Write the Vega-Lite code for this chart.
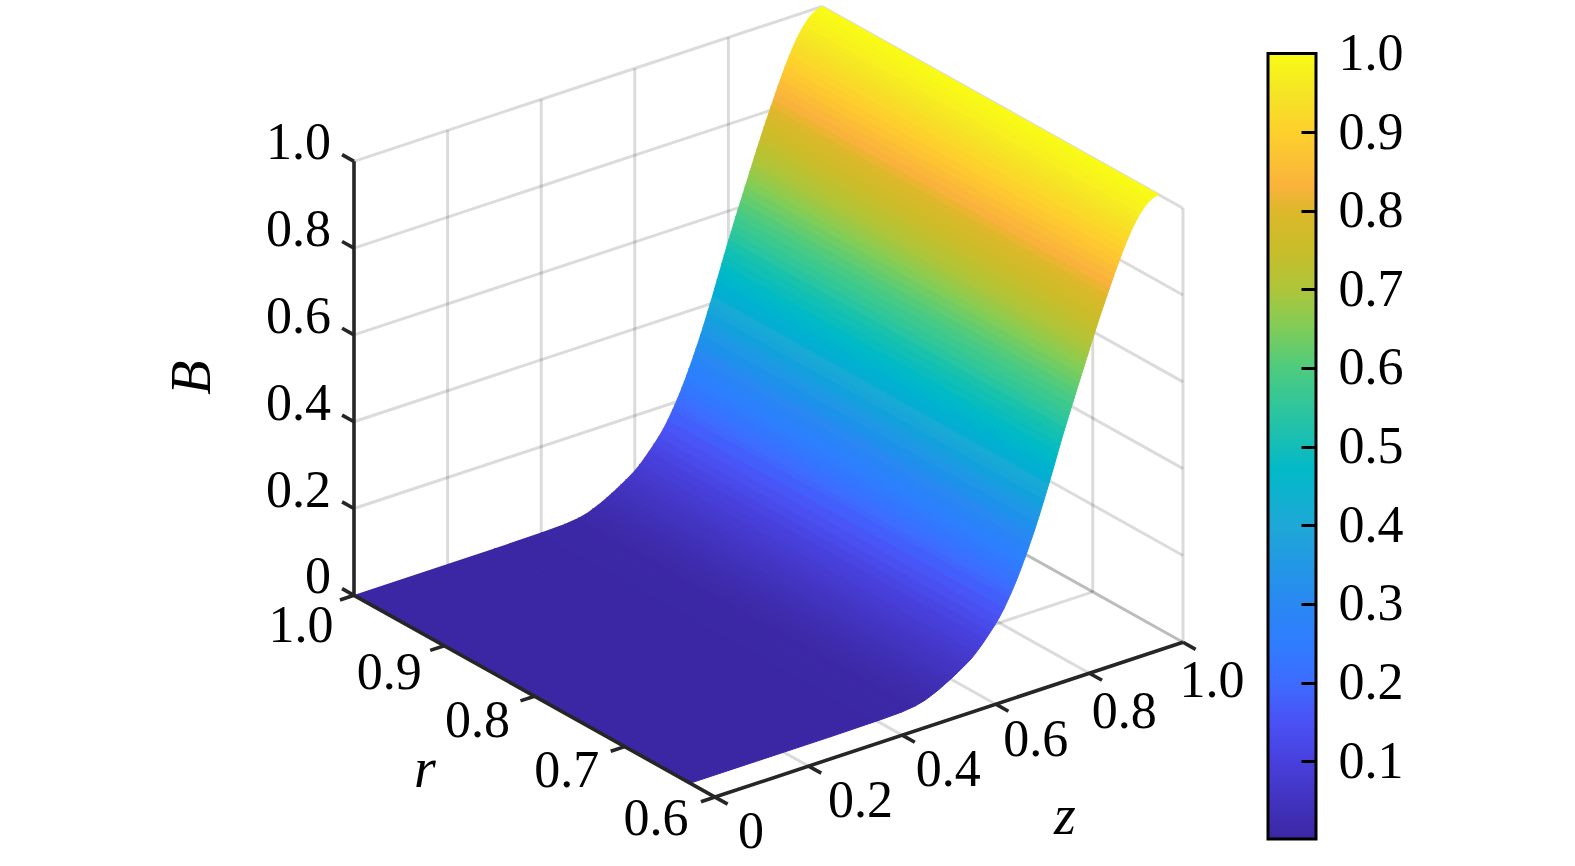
{"$schema":"https://vega.github.io/schema/vega-lite/v6.json","width":1575,"height":866,"padding":0,"autosize":{"type":"fit","contains":"padding"},"background":"white","config":{"view":{"stroke":null}},"layer":[{"layer":[
{"data":{"values":[
{"id":"a1","r":[1,1],"z":[0.2,0.2],"B":[0,1]},{"id":"a2","r":[1,1],"z":[0.4,0.4],"B":[0,1]},{"id":"a3","r":[1,1],"z":[0.6,0.6],"B":[0,1]},{"id":"a4","r":[1,1],"z":[0.8,0.8],"B":[0,1]},
{"id":"b1","r":[1,1],"z":[0,1],"B":[0.2,0.2]},{"id":"b2","r":[1,1],"z":[0,1],"B":[0.4,0.4]},{"id":"b3","r":[1,1],"z":[0,1],"B":[0.6,0.6]},{"id":"b4","r":[1,1],"z":[0,1],"B":[0.8,0.8]},{"id":"b5","r":[1,1],"z":[0,1],"B":[1,1]},
{"id":"c0","r":[0.6,0.6],"z":[1,1],"B":[0,1]},{"id":"c1","r":[0.7,0.7],"z":[1,1],"B":[0,1]},{"id":"c2","r":[0.8,0.8],"z":[1,1],"B":[0,1]},{"id":"c3","r":[0.9,0.9],"z":[1,1],"B":[0,1]},
{"id":"d0","r":[1,0.6],"z":[1,1],"B":[0,0]},{"id":"d1","r":[1,0.6],"z":[1,1],"B":[0.2,0.2]},{"id":"d2","r":[1,0.6],"z":[1,1],"B":[0.4,0.4]},{"id":"d3","r":[1,0.6],"z":[1,1],"B":[0.6,0.6]},{"id":"d4","r":[1,0.6],"z":[1,1],"B":[0.8,0.8]},{"id":"d5","r":[1,0.6],"z":[1,1],"B":[1,1]},
{"id":"e1","r":[1,0.6],"z":[0.2,0.2],"B":[0,0]},{"id":"e2","r":[1,0.6],"z":[0.4,0.4],"B":[0,0]},{"id":"e3","r":[1,0.6],"z":[0.6,0.6],"B":[0,0]},{"id":"e4","r":[1,0.6],"z":[0.8,0.8],"B":[0,0]},{"id":"e5","r":[1,0.6],"z":[1,1],"B":[0,0]},
{"id":"f1","r":[0.7,0.7],"z":[0,1],"B":[0,0]},{"id":"f2","r":[0.8,0.8],"z":[0,1],"B":[0,0]},{"id":"f3","r":[0.9,0.9],"z":[0,1],"B":[0,0]}
]},
"transform":[{"flatten":["r","z","B"]},{"calculate":"354+902.5*(1-datum.r)+468*datum.z","as":"sx"},{"calculate":"595+505*(1-datum.r)-155*datum.z-434.5*datum.B","as":"sy"}],
"mark":{"type":"line","stroke":"#000000","strokeOpacity":0.14,"strokeWidth":3},
"encoding":{"x":{"field":"sx","type":"quantitative","scale":{"domain":[0,1575],"nice":false,"zero":false},"axis":null},"y":{"field":"sy","type":"quantitative","scale":{"domain":[866,0],"nice":false,"zero":false},"axis":null},"detail":{"field":"id"}}},
{"data":{"values":[
{"s":1,"z":[1,1,0.99,0.99],"B":[1,1,0.998,0.998],"r":[1,0.627,0.627,1],"k":[0,1,2,3]},
{"s":2,"z":[0.99,0.99,0.98,0.98],"B":[0.998,0.998,0.992,0.992],"r":[1,0.627,0.627,1],"k":[0,1,2,3]},
{"s":3,"z":[0.98,0.98,0.97,0.97],"B":[0.992,0.992,0.983,0.983],"r":[1,0.627,0.627,1],"k":[0,1,2,3]},
{"s":4,"z":[0.97,0.97,0.96,0.96],"B":[0.983,0.983,0.97,0.97],"r":[1,0.627,0.627,1],"k":[0,1,2,3]},
{"s":5,"z":[0.96,0.96,0.955,0.955],"B":[0.97,0.97,0.962,0.962],"r":[1,0.627,0.627,1],"k":[0,1,2,3]},
{"s":6,"z":[0.955,0.955,0.95,0.95],"B":[0.962,0.962,0.954,0.954],"r":[1,0.627,0.627,1],"k":[0,1,2,3]},
{"s":7,"z":[0.95,0.95,0.945,0.945],"B":[0.954,0.954,0.945,0.945],"r":[1,0.627,0.627,1],"k":[0,1,2,3]},
{"s":8,"z":[0.945,0.945,0.94,0.94],"B":[0.945,0.945,0.935,0.935],"r":[1,0.627,0.627,1],"k":[0,1,2,3]},
{"s":9,"z":[0.94,0.94,0.935,0.935],"B":[0.935,0.935,0.924,0.924],"r":[1,0.627,0.627,1],"k":[0,1,2,3]},
{"s":10,"z":[0.935,0.935,0.93,0.93],"B":[0.924,0.924,0.913,0.913],"r":[1,0.627,0.627,1],"k":[0,1,2,3]},
{"s":11,"z":[0.93,0.93,0.925,0.925],"B":[0.913,0.913,0.901,0.901],"r":[1,0.627,0.627,1],"k":[0,1,2,3]},
{"s":12,"z":[0.925,0.925,0.92,0.92],"B":[0.901,0.901,0.889,0.889],"r":[1,0.627,0.627,1],"k":[0,1,2,3]},
{"s":13,"z":[0.92,0.92,0.915,0.915],"B":[0.889,0.889,0.876,0.876],"r":[1,0.627,0.627,1],"k":[0,1,2,3]},
{"s":14,"z":[0.915,0.915,0.91,0.91],"B":[0.876,0.876,0.863,0.863],"r":[1,0.627,0.627,1],"k":[0,1,2,3]},
{"s":15,"z":[0.91,0.91,0.905,0.905],"B":[0.863,0.863,0.85,0.85],"r":[1,0.627,0.627,1],"k":[0,1,2,3]},
{"s":16,"z":[0.905,0.905,0.9,0.9],"B":[0.85,0.85,0.836,0.836],"r":[1,0.627,0.627,1],"k":[0,1,2,3]},
{"s":17,"z":[0.9,0.9,0.895,0.895],"B":[0.836,0.836,0.822,0.822],"r":[1,0.627,0.627,1],"k":[0,1,2,3]},
{"s":18,"z":[0.895,0.895,0.89,0.89],"B":[0.822,0.822,0.808,0.808],"r":[1,0.627,0.627,1],"k":[0,1,2,3]},
{"s":19,"z":[0.89,0.89,0.885,0.885],"B":[0.808,0.808,0.794,0.794],"r":[1,0.627,0.627,1],"k":[0,1,2,3]},
{"s":20,"z":[0.885,0.885,0.88,0.88],"B":[0.794,0.794,0.78,0.78],"r":[1,0.627,0.627,1],"k":[0,1,2,3]},
{"s":21,"z":[0.88,0.88,0.875,0.875],"B":[0.78,0.78,0.766,0.766],"r":[1,0.627,0.627,1],"k":[0,1,2,3]},
{"s":22,"z":[0.875,0.875,0.87,0.87],"B":[0.766,0.766,0.751,0.751],"r":[1,0.627,0.627,1],"k":[0,1,2,3]},
{"s":23,"z":[0.87,0.87,0.865,0.865],"B":[0.751,0.751,0.736,0.736],"r":[1,0.627,0.627,1],"k":[0,1,2,3]},
{"s":24,"z":[0.865,0.865,0.86,0.86],"B":[0.736,0.736,0.721,0.721],"r":[1,0.627,0.627,1],"k":[0,1,2,3]},
{"s":25,"z":[0.86,0.86,0.855,0.855],"B":[0.721,0.721,0.706,0.706],"r":[1,0.627,0.627,1],"k":[0,1,2,3]},
{"s":26,"z":[0.855,0.855,0.85,0.85],"B":[0.706,0.706,0.69,0.69],"r":[1,0.627,0.627,1],"k":[0,1,2,3]},
{"s":27,"z":[0.85,0.85,0.845,0.845],"B":[0.69,0.69,0.675,0.675],"r":[1,0.627,0.627,1],"k":[0,1,2,3]},
{"s":28,"z":[0.845,0.845,0.84,0.84],"B":[0.675,0.675,0.659,0.659],"r":[1,0.627,0.627,1],"k":[0,1,2,3]},
{"s":29,"z":[0.84,0.84,0.835,0.835],"B":[0.659,0.659,0.644,0.644],"r":[1,0.627,0.627,1],"k":[0,1,2,3]},
{"s":30,"z":[0.835,0.835,0.83,0.83],"B":[0.644,0.644,0.628,0.628],"r":[1,0.627,0.627,1],"k":[0,1,2,3]},
{"s":31,"z":[0.83,0.83,0.825,0.825],"B":[0.628,0.628,0.613,0.613],"r":[1,0.627,0.627,1],"k":[0,1,2,3]},
{"s":32,"z":[0.825,0.825,0.82,0.82],"B":[0.613,0.613,0.597,0.597],"r":[1,0.627,0.627,1],"k":[0,1,2,3]},
{"s":33,"z":[0.82,0.82,0.815,0.815],"B":[0.597,0.597,0.582,0.582],"r":[1,0.627,0.627,1],"k":[0,1,2,3]},
{"s":34,"z":[0.815,0.815,0.81,0.81],"B":[0.582,0.582,0.566,0.566],"r":[1,0.627,0.627,1],"k":[0,1,2,3]},
{"s":35,"z":[0.81,0.81,0.805,0.805],"B":[0.566,0.566,0.55,0.55],"r":[1,0.627,0.627,1],"k":[0,1,2,3]},
{"s":36,"z":[0.805,0.805,0.8,0.8],"B":[0.55,0.55,0.534,0.534],"r":[1,0.627,0.627,1],"k":[0,1,2,3]},
{"s":37,"z":[0.8,0.8,0.795,0.795],"B":[0.534,0.534,0.518,0.518],"r":[1,0.627,0.627,1],"k":[0,1,2,3]},
{"s":38,"z":[0.795,0.795,0.79,0.79],"B":[0.518,0.518,0.501,0.501],"r":[1,0.627,0.627,1],"k":[0,1,2,3]},
{"s":39,"z":[0.79,0.79,0.785,0.785],"B":[0.501,0.501,0.484,0.484],"r":[1,0.627,0.627,1],"k":[0,1,2,3]},
{"s":40,"z":[0.785,0.785,0.78,0.78],"B":[0.484,0.484,0.467,0.467],"r":[1,0.627,0.627,1],"k":[0,1,2,3]},
{"s":41,"z":[0.78,0.78,0.775,0.775],"B":[0.467,0.467,0.45,0.45],"r":[1,0.627,0.627,1],"k":[0,1,2,3]},
{"s":42,"z":[0.775,0.775,0.77,0.77],"B":[0.45,0.45,0.433,0.433],"r":[1,0.627,0.627,1],"k":[0,1,2,3]},
{"s":43,"z":[0.77,0.77,0.765,0.765],"B":[0.433,0.433,0.416,0.416],"r":[1,0.627,0.627,1],"k":[0,1,2,3]},
{"s":44,"z":[0.765,0.765,0.76,0.76],"B":[0.416,0.416,0.4,0.4],"r":[1,0.627,0.627,1],"k":[0,1,2,3]},
{"s":45,"z":[0.76,0.76,0.755,0.755],"B":[0.4,0.4,0.384,0.384],"r":[1,0.627,0.627,1],"k":[0,1,2,3]},
{"s":46,"z":[0.755,0.755,0.75,0.75],"B":[0.384,0.384,0.368,0.368],"r":[1,0.627,0.627,1],"k":[0,1,2,3]},
{"s":47,"z":[0.75,0.75,0.745,0.745],"B":[0.368,0.368,0.352,0.352],"r":[1,0.627,0.627,1],"k":[0,1,2,3]},
{"s":48,"z":[0.745,0.745,0.74,0.74],"B":[0.352,0.352,0.337,0.337],"r":[1,0.627,0.627,1],"k":[0,1,2,3]},
{"s":49,"z":[0.74,0.74,0.735,0.735],"B":[0.337,0.337,0.322,0.322],"r":[1,0.627,0.627,1],"k":[0,1,2,3]},
{"s":50,"z":[0.735,0.735,0.73,0.73],"B":[0.322,0.322,0.308,0.308],"r":[1,0.627,0.627,1],"k":[0,1,2,3]},
{"s":51,"z":[0.73,0.73,0.725,0.725],"B":[0.308,0.308,0.294,0.294],"r":[1,0.627,0.627,1],"k":[0,1,2,3]},
{"s":52,"z":[0.725,0.725,0.72,0.72],"B":[0.294,0.294,0.28,0.28],"r":[1,0.627,0.627,1],"k":[0,1,2,3]},
{"s":53,"z":[0.72,0.72,0.715,0.715],"B":[0.28,0.28,0.267,0.267],"r":[1,0.627,0.627,1],"k":[0,1,2,3]},
{"s":54,"z":[0.715,0.715,0.71,0.71],"B":[0.267,0.267,0.254,0.254],"r":[1,0.627,0.627,1],"k":[0,1,2,3]},
{"s":55,"z":[0.71,0.71,0.705,0.705],"B":[0.254,0.254,0.241,0.241],"r":[1,0.627,0.627,1],"k":[0,1,2,3]},
{"s":56,"z":[0.705,0.705,0.7,0.7],"B":[0.241,0.241,0.229,0.229],"r":[1,0.627,0.627,1],"k":[0,1,2,3]},
{"s":57,"z":[0.7,0.7,0.695,0.695],"B":[0.229,0.229,0.217,0.217],"r":[1,0.627,0.627,1],"k":[0,1,2,3]},
{"s":58,"z":[0.695,0.695,0.69,0.69],"B":[0.217,0.217,0.206,0.206],"r":[1,0.627,0.627,1],"k":[0,1,2,3]},
{"s":59,"z":[0.69,0.69,0.685,0.685],"B":[0.206,0.206,0.195,0.195],"r":[1,0.627,0.627,1],"k":[0,1,2,3]},
{"s":60,"z":[0.685,0.685,0.68,0.68],"B":[0.195,0.195,0.185,0.185],"r":[1,0.627,0.627,1],"k":[0,1,2,3]},
{"s":61,"z":[0.68,0.68,0.67,0.67],"B":[0.185,0.185,0.165,0.165],"r":[1,0.627,0.627,1],"k":[0,1,2,3]},
{"s":62,"z":[0.67,0.67,0.66,0.66],"B":[0.165,0.165,0.148,0.148],"r":[1,0.627,0.627,1],"k":[0,1,2,3]},
{"s":63,"z":[0.66,0.66,0.65,0.65],"B":[0.148,0.148,0.133,0.133],"r":[1,0.627,0.627,1],"k":[0,1,2,3]},
{"s":64,"z":[0.65,0.65,0.64,0.64],"B":[0.133,0.133,0.12,0.12],"r":[1,0.627,0.627,1],"k":[0,1,2,3]},
{"s":65,"z":[0.64,0.64,0.63,0.63],"B":[0.12,0.12,0.107,0.107],"r":[1,0.627,0.627,1],"k":[0,1,2,3]},
{"s":66,"z":[0.63,0.63,0.62,0.62],"B":[0.107,0.107,0.095,0.095],"r":[1,0.627,0.627,1],"k":[0,1,2,3]},
{"s":67,"z":[0.62,0.62,0.61,0.61],"B":[0.095,0.095,0.084,0.084],"r":[1,0.627,0.627,1],"k":[0,1,2,3]},
{"s":68,"z":[0.61,0.61,0.6,0.6],"B":[0.084,0.084,0.074,0.074],"r":[1,0.627,0.627,1],"k":[0,1,2,3]},
{"s":69,"z":[0.6,0.6,0.59,0.59],"B":[0.074,0.074,0.066,0.066],"r":[1,0.627,0.627,1],"k":[0,1,2,3]},
{"s":70,"z":[0.59,0.59,0.58,0.58],"B":[0.066,0.066,0.059,0.059],"r":[1,0.627,0.627,1],"k":[0,1,2,3]},
{"s":71,"z":[0.58,0.58,0.57,0.57],"B":[0.059,0.059,0.052,0.052],"r":[1,0.627,0.627,1],"k":[0,1,2,3]},
{"s":72,"z":[0.57,0.57,0.56,0.56],"B":[0.052,0.052,0.045,0.045],"r":[1,0.627,0.627,1],"k":[0,1,2,3]},
{"s":73,"z":[0.56,0.56,0.55,0.55],"B":[0.045,0.045,0.039,0.039],"r":[1,0.627,0.627,1],"k":[0,1,2,3]},
{"s":74,"z":[0.55,0.55,0.54,0.54],"B":[0.039,0.039,0.033,0.033],"r":[1,0.627,0.627,1],"k":[0,1,2,3]},
{"s":75,"z":[0.54,0.54,0.53,0.53],"B":[0.033,0.033,0.027,0.027],"r":[1,0.627,0.627,1],"k":[0,1,2,3]},
{"s":76,"z":[0.53,0.53,0.52,0.52],"B":[0.027,0.027,0.022,0.022],"r":[1,0.627,0.627,1],"k":[0,1,2,3]},
{"s":77,"z":[0.52,0.52,0.51,0.51],"B":[0.022,0.022,0.0175,0.0175],"r":[1,0.627,0.627,1],"k":[0,1,2,3]},
{"s":78,"z":[0.51,0.51,0.5,0.5],"B":[0.0175,0.0175,0.013,0.013],"r":[1,0.627,0.627,1],"k":[0,1,2,3]},
{"s":79,"z":[0.5,0.5,0.48,0.48],"B":[0.013,0.013,0.0075,0.0075],"r":[1,0.627,0.627,1],"k":[0,1,2,3]},
{"s":80,"z":[0.48,0.48,0.45,0.45],"B":[0.0075,0.0075,0.0035,0.0035],"r":[1,0.627,0.627,1],"k":[0,1,2,3]},
{"s":81,"z":[0.45,0.45,0.4,0.4],"B":[0.0035,0.0035,0.002,0.002],"r":[1,0.627,0.627,1],"k":[0,1,2,3]},
{"s":82,"z":[0.4,0.4,0.3,0.3],"B":[0.002,0.002,0.001,0.001],"r":[1,0.627,0.627,1],"k":[0,1,2,3]},
{"s":83,"z":[0.3,0.3,0,0],"B":[0.001,0.001,0.001,0.001],"r":[1,0.627,0.627,1],"k":[0,1,2,3]}
]},
"transform":[{"flatten":["z","B","r","k"]},{"joinaggregate":[{"op":"mean","field":"B","as":"level"}],"groupby":["s"]},{"calculate":"354+902.5*(1-datum.r)+468*datum.z","as":"sx"},{"calculate":"595+505*(1-datum.r)-155*datum.z-434.5*datum.B","as":"sy"}],
"mark":{"type":"line","strokeWidth":1,"interpolate":"linear"},
"encoding":{"x":{"field":"sx","type":"quantitative","axis":null},"y":{"field":"sy","type":"quantitative","axis":null},"detail":{"field":"s"},"order":{"field":"k","type":"quantitative"},
"fill":{"field":"level","type":"quantitative","legend":null,"scale":{"domain":[0,0.05,0.1,0.15,0.2,0.25,0.3,0.35,0.4,0.47,0.5,0.55,0.6,0.65,0.7,0.75,0.8,0.83,0.9,0.95,1],"range":["#3b27a3","#4234c0","#4840dd","#4a52f5","#3d6cff","#2f7dff","#2a88f2","#2298e4","#1ea8d6","#02b9c8","#14bdb8","#2fc69c","#4ecb7e","#7fcd58","#aec53a","#c9bd2a","#dcb82a","#fab23c","#fdd02c","#f5e525","#f9fb15"]}},
"stroke":{"field":"level","type":"quantitative","legend":null,"scale":{"domain":[0,0.05,0.1,0.15,0.2,0.25,0.3,0.35,0.4,0.47,0.5,0.55,0.6,0.65,0.7,0.75,0.8,0.83,0.9,0.95,1],"range":["#3b27a3","#4234c0","#4840dd","#4a52f5","#3d6cff","#2f7dff","#2a88f2","#2298e4","#1ea8d6","#02b9c8","#14bdb8","#2fc69c","#4ecb7e","#7fcd58","#aec53a","#c9bd2a","#dcb82a","#fab23c","#fdd02c","#f5e525","#f9fb15"]}}}},
{"data":{"values":[
{"id":"r","r":[1,0.6],"z":[0,0],"B":[0,0]},{"id":"z","r":[0.6,0.6],"z":[0,1],"B":[0,0]},{"id":"B","r":[1,1],"z":[0,0],"B":[0,1]},
{"id":"tr10","r":[1,1],"z":[0,-0.03],"B":[0,0]},{"id":"tr9","r":[0.9,0.9],"z":[0,-0.03],"B":[0,0]},{"id":"tr8","r":[0.8,0.8],"z":[0,-0.03],"B":[0,0]},{"id":"tr7","r":[0.7,0.7],"z":[0,-0.03],"B":[0,0]},{"id":"tr6","r":[0.6,0.6],"z":[0,-0.03],"B":[0,0]},
{"id":"tz0","r":[0.6,0.586],"z":[0,0],"B":[0,0]},{"id":"tz2","r":[0.6,0.586],"z":[0.2,0.2],"B":[0,0]},{"id":"tz4","r":[0.6,0.586],"z":[0.4,0.4],"B":[0,0]},{"id":"tz6","r":[0.6,0.586],"z":[0.6,0.6],"B":[0,0]},{"id":"tz8","r":[0.6,0.586],"z":[0.8,0.8],"B":[0,0]},{"id":"tz10","r":[0.6,0.586],"z":[1,1],"B":[0,0]},
{"id":"tB0","r":[1,1.0132],"z":[0,0],"B":[0,0]},{"id":"tB2","r":[1,1.0132],"z":[0,0],"B":[0.2,0.2]},{"id":"tB4","r":[1,1.0132],"z":[0,0],"B":[0.4,0.4]},{"id":"tB6","r":[1,1.0132],"z":[0,0],"B":[0.6,0.6]},{"id":"tB8","r":[1,1.0132],"z":[0,0],"B":[0.8,0.8]},{"id":"tB10","r":[1,1.0132],"z":[0,0],"B":[1,1]}
]},
"transform":[{"flatten":["r","z","B"]},{"calculate":"354+902.5*(1-datum.r)+468*datum.z","as":"sx"},{"calculate":"595+505*(1-datum.r)-155*datum.z-434.5*datum.B","as":"sy"}],
"mark":{"type":"line","stroke":"#262626","strokeWidth":3.6},
"encoding":{"x":{"field":"sx","type":"quantitative","axis":null},"y":{"field":"sy","type":"quantitative","axis":null},"detail":{"field":"id"}}},
{"data":{"values":[
{"t":"1.0","r":0.9833,"z":-0.1455,"B":0},{"t":"0.9","r":0.8891,"z":-0.1386,"B":0},{"t":"0.8","r":0.7924,"z":-0.1365,"B":0},{"t":"0.7","r":0.694,"z":-0.1354,"B":0},{"t":"0.6","r":0.597,"z":-0.132,"B":0},
{"t":"0","r":0.5416,"z":-0.0356,"B":0},{"t":"0.2","r":0.535,"z":0.1858,"B":0},{"t":"0.4","r":0.5375,"z":0.3778,"B":0},{"t":"0.6","r":0.5387,"z":0.5673,"B":0},{"t":"0.8","r":0.5371,"z":0.7534,"B":0},{"t":"1.0","r":0.5395,"z":0.9454,"B":0}
]},
"transform":[{"calculate":"354+902.5*(1-datum.r)+468*datum.z","as":"sx"},{"calculate":"595+505*(1-datum.r)-155*datum.z-434.5*datum.B","as":"sy"}],
"mark":{"type":"text","font":"Liberation Serif","fontSize":52,"color":"#000000","align":"center","baseline":"middle"},
"encoding":{"x":{"field":"sx","type":"quantitative","axis":null},"y":{"field":"sy","type":"quantitative","axis":null},"text":{"field":"t"}}},
{"data":{"values":[
{"t":"0","r":1.0255,"z":0,"B":0.0115},{"t":"0.2","r":1.0255,"z":0,"B":0.2115},{"t":"0.4","r":1.0255,"z":0,"B":0.4115},{"t":"0.6","r":1.0255,"z":0,"B":0.6115},{"t":"0.8","r":1.0255,"z":0,"B":0.8115},{"t":"1.0","r":1.0255,"z":0,"B":1.0115}
]},
"transform":[{"calculate":"354+902.5*(1-datum.r)+468*datum.z","as":"sx"},{"calculate":"595+505*(1-datum.r)-155*datum.z-434.5*datum.B","as":"sy"}],
"mark":{"type":"text","font":"Liberation Serif","fontSize":52,"color":"#000000","align":"right","baseline":"middle"},
"encoding":{"x":{"field":"sx","type":"quantitative","axis":null},"y":{"field":"sy","type":"quantitative","axis":null},"text":{"field":"t"}}},
{"data":{"values":[{"t":"r","r":0.7531,"z":-0.3245,"B":0},{"t":"z","r":0.4309,"z":0.4218,"B":0}]},
"transform":[{"calculate":"354+902.5*(1-datum.r)+468*datum.z","as":"sx"},{"calculate":"595+505*(1-datum.r)-155*datum.z-434.5*datum.B","as":"sy"}],
"mark":{"type":"text","font":"Liberation Serif","fontStyle":"italic","fontSize":56,"color":"#000000","align":"center","baseline":"middle"},
"encoding":{"x":{"field":"sx","type":"quantitative","axis":null},"y":{"field":"sy","type":"quantitative","axis":null},"text":{"field":"t"}}},
{"data":{"values":[{"t":"B","r":1.178,"z":0,"B":0.2946}]},
"transform":[{"calculate":"354+902.5*(1-datum.r)+468*datum.z","as":"sx"},{"calculate":"595+505*(1-datum.r)-155*datum.z-434.5*datum.B","as":"sy"}],
"mark":{"type":"text","font":"Liberation Serif","fontStyle":"italic","fontSize":56,"angle":270,"color":"#000000","align":"center","baseline":"middle"},
"encoding":{"x":{"field":"sx","type":"quantitative","axis":null},"y":{"field":"sy","type":"quantitative","axis":null},"text":{"field":"t"}}}
]},
{"data":{"values":[{"lo":0.001,"hi":1,"a":0,"b":1}]},
"mark":{"type":"rect","stroke":"#000000","strokeWidth":3,"fill":{"gradient":"linear","x1":0,"y1":1,"x2":0,"y2":0,"stops":[{"offset":0,"color":"#3b27a3"},{"offset":0.05,"color":"#4234c0"},{"offset":0.1,"color":"#4840dd"},{"offset":0.15,"color":"#4a52f5"},{"offset":0.2,"color":"#3d6cff"},{"offset":0.25,"color":"#2f7dff"},{"offset":0.3,"color":"#2a88f2"},{"offset":0.35,"color":"#2298e4"},{"offset":0.4,"color":"#1ea8d6"},{"offset":0.47,"color":"#02b9c8"},{"offset":0.5,"color":"#14bdb8"},{"offset":0.55,"color":"#2fc69c"},{"offset":0.6,"color":"#4ecb7e"},{"offset":0.65,"color":"#7fcd58"},{"offset":0.7,"color":"#aec53a"},{"offset":0.75,"color":"#c9bd2a"},{"offset":0.8,"color":"#dcb82a"},{"offset":0.83,"color":"#fab23c"},{"offset":0.9,"color":"#fdd02c"},{"offset":0.95,"color":"#f5e525"},{"offset":1,"color":"#f9fb15"}]}},
"encoding":{"x":{"field":"a","type":"quantitative","scale":{"domain":[-26.417,6.396],"nice":false,"zero":false},"axis":null},"x2":{"field":"b"},
"y":{"field":"lo","type":"quantitative","scale":{"domain":[-0.0333,1.0667],"nice":false,"zero":false},"axis":{"orient":"right","offset":-259,"values":[0.1,0.2,0.3,0.4,0.5,0.6,0.7,0.8,0.9,1],"format":".1f","title":null,"grid":false,"domain":false,"tickSize":-15,"tickWidth":3,"tickColor":"#000000","labelFont":"Liberation Serif","labelFontSize":52,"labelColor":"#000000","labelPadding":37,"labelOverlap":false,"labelFlush":false,"zindex":1}},"y2":{"field":"hi"}}}
],"resolve":{"scale":{"x":"independent","y":"independent"}}}
